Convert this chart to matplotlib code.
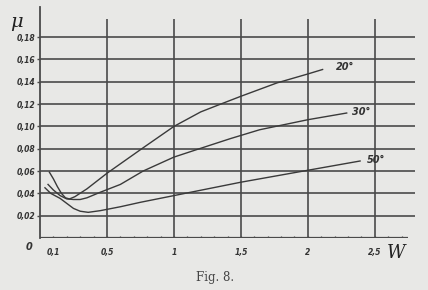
import matplotlib
matplotlib.use("Agg")
import matplotlib.pyplot as plt

# Data (W on x, mu on y)
w_20 = [0.07, 0.10, 0.13, 0.16, 0.19, 0.22, 0.26, 0.35, 0.50, 0.76, 1.00, 1.20, 1.36, 1.50, 1.77, 2.00, 2.11]
mu_20 = [0.059, 0.053, 0.046, 0.040, 0.036, 0.035, 0.037, 0.044, 0.058, 0.080, 0.100, 0.113, 0.1205, 0.127, 0.139, 0.147, 0.151]

w_30 = [0.06, 0.10, 0.15, 0.20, 0.25, 0.30, 0.35, 0.45, 0.60, 0.77, 1.00, 1.19, 1.42, 1.64, 2.00, 2.29]
mu_30 = [0.048, 0.043, 0.038, 0.035, 0.0345, 0.0345, 0.036, 0.041, 0.048, 0.060, 0.0725, 0.080, 0.089, 0.097, 0.106, 0.112]

w_50 = [0.037, 0.08, 0.15, 0.20, 0.25, 0.30, 0.36, 0.45, 0.60, 0.75, 1.00, 1.50, 2.00, 2.39]
mu_50 = [0.045, 0.040, 0.0355, 0.031, 0.0265, 0.024, 0.023, 0.0245, 0.028, 0.032, 0.038, 0.050, 0.0607, 0.069]

series_labels = ["20°", "30°", "50°"]
label_pos = [(2.28, 0.1535), (2.40, 0.1125), (2.51, 0.0696)]

y_ticks = [0.02, 0.04, 0.06, 0.08, 0.10, 0.12, 0.14, 0.16, 0.18]
y_ticklabels = ["0,02", "0,04", "0,06", "0,08", "0,10", "0,12", "0,14", "0,16", "0,18"]
x_ticks = [0.1, 0.5, 1.0, 1.5, 2.0, 2.5]
x_ticklabels = ["0,1", "0,5", "1", "1,5", "2", "2,5"]
x_grid = [0.5, 1.0, 1.5, 2.0, 2.5]

bg = "#e8e8e6"
ink = "#4a4a4a"

fig = plt.figure(figsize=(4.28, 2.90), dpi=100, facecolor=bg)
ax = fig.add_axes([40 / 428, 1 - 238 / 290, 375 / 428, 231 / 290])
ax.set_facecolor(bg)
ax.set_xlim(0, 2.8)
ax.set_ylim(0, 0.207)

for s in ["top", "right", "bottom"]:
    ax.spines[s].set_visible(False)
ax.spines["left"].set_color(ink)
ax.spines["left"].set_linewidth(1.3)

# grid
ax.hlines(y_ticks, 0, 2.8, color=ink, lw=1.2, zorder=1)
ax.vlines(x_grid, 0, 0.196, color=ink, lw=1.2, zorder=1)
ax.hlines([0], 0, 2.75, color=ink, lw=1.6, zorder=2)

# minor ticks on W axis
minor = [i / 10 for i in range(1, 28)]
ax.vlines(minor, -0.0015, 0.0015, color=ink, lw=0.9, zorder=2)

# curves
for w, mu in [(w_20, mu_20), (w_30, mu_30), (w_50, mu_50)]:
    ax.plot(w, mu, color="#3a3a3a", lw=1.0, zorder=3)

tfont = dict(family="DejaVu Sans", fontweight="bold", style="italic", color="#333333")
for lab, (x, y) in zip(series_labels, label_pos):
    ax.text(x, y, lab, fontsize=7, ha="center", va="center", **tfont)

ax.set_yticks(y_ticks)
ax.set_yticklabels(y_ticklabels, fontsize=5.5, **tfont)
ax.tick_params(axis="y", length=2, width=1, color=ink, pad=1)
ax.set_xticks(x_ticks)
ax.set_xticklabels(x_ticklabels, fontsize=5.5, **tfont)
ax.tick_params(axis="x", length=0, pad=7)

fig.text(29 / 428, 1 - 247 / 290, "0", fontsize=7, ha="center", va="center", **tfont)
fig.text(16 / 428, 1 - 22 / 290, "μ", fontsize=14, ha="center", va="center",
         family="DejaVu Serif", style="italic", color="#222222")
fig.text(396 / 428, 1 - 253 / 290, "W", fontsize=13, ha="center", va="center",
         family="DejaVu Serif", style="italic", color="#222222")
fig.text(215 / 428, 1 - 278 / 290, "Fig. 8.", fontsize=8.5, ha="center", va="center",
         family="DejaVu Serif", color="#444444")

fig.savefig("out.png", dpi=100, facecolor=bg)
